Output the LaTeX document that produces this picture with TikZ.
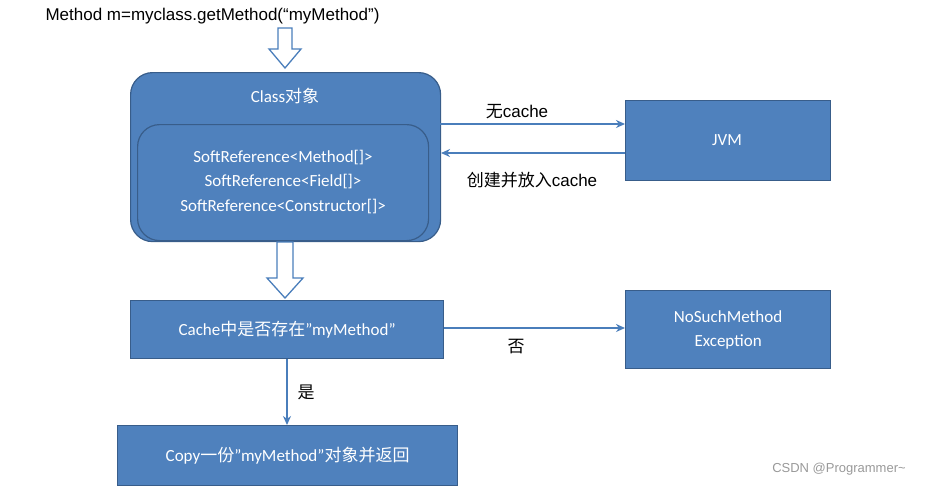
\documentclass[tikz,border=0pt]{standalone}
\usepackage{fontspec}
\setmainfont{Carlito}
\newfontfamily\arial{Liberation Sans}
\newfontfamily\cjk{Noto Sans CJK SC}
\usetikzlibrary{arrows.meta}
\definecolor{bfill}{HTML}{4F81BD}
\definecolor{bdraw}{HTML}{385D8A}
\definecolor{arr}{HTML}{4A7EBB}
\begin{document}
\begin{tikzpicture}[x=1pt,y=-1pt,
  box/.style={fill=bfill,draw=bdraw,line width=1.2pt,text=white,font=\fontsize{17}{21}\selectfont,align=center},
  con/.style={draw=arr,line width=1.5pt,-{Stealth[length=9pt,width=8pt]}},
  lbl/.style={font=\arial\fontsize{17}{20}\selectfont,text=black},
  hollow/.style={fill=white,draw=arr,line width=1.3pt}]
\useasboundingbox (0,0) rectangle (935,488);
\node[lbl,anchor=west] (title) at (42,16) {Method m=myclass.getMethod(“myMethod”)};
% hollow arrow top
\draw[hollow] (278,28)--(292,28)--(292,49)--(301,49)--(285,68)--(269,49)--(278,49)--cycle;
\node[box,rounded corners=22pt,minimum width=310pt,minimum height=169pt,anchor=north west] (cls) at (130,72) {};
\node[text=white,font=\fontsize{17}{21}\selectfont] (clst) at (285,96) {Class{\cjk 对象}};
\node[box,rounded corners=22pt,minimum width=291pt,minimum height=116pt,anchor=north west] (soft) at (137,124) {};
\node[text=white,font=\fontsize{17}{24.5}\selectfont,align=center] (softt) at (283,182) {SoftReference<Method[]>\\SoftReference<Field[]>\\SoftReference<Constructor[]>};
\node[box,minimum width=205pt,minimum height=80pt,anchor=north west] (jvm) at (625,100) {};
\node[text=white,font=\fontsize{17}{21}\selectfont] (jvmt) at (727,140) {JVM};
\coordinate (a1) at (440,124); \coordinate (a2) at (625,124);
\coordinate (b1) at (625,153); \coordinate (b2) at (441,153);
\draw[con] (a1)--(a2);
\draw[con] (b1)--(b2);
\node[lbl] (nc) at (517,112) {{\cjk 无}cache};
\node[lbl] (cj) at (532,180) {{\cjk 创建并放入}cache};
% hollow arrow middle
\draw[hollow] (277,242)--(293,242)--(293,278)--(303,278)--(285,298)--(267,278)--(277,278)--cycle;
\node[box,minimum width=313pt,minimum height=58pt,anchor=north west] (cache) at (130,300) {Cache{\cjk 中是否存在}”myMethod”};
\node[box,minimum width=205pt,minimum height=78pt,anchor=north west,font=\fontsize{17}{24}\selectfont] (nsm) at (625,290) {NoSuchMethod\\Exception};
\draw[con] (cache.east |- 0,328) -- (nsm.west |- 0,328);
\node[lbl] (no) at (516,347) {\cjk 否};
\node[box,minimum width=340pt,minimum height=60pt,anchor=north west] (copy) at (117,425) {Copy{\cjk 一份}”myMethod”{\cjk 对象并返回}};
\draw[con] (cache.south -| 287,0) -- (copy.north -| 287,0);
\node[lbl] (yes) at (306,392) {\cjk 是};
\node[font=\arial\fontsize{13}{15}\selectfont,text=gray!80] (wm) at (839,469) {CSDN @Programmer\textasciitilde};
\end{tikzpicture}
\end{document}
